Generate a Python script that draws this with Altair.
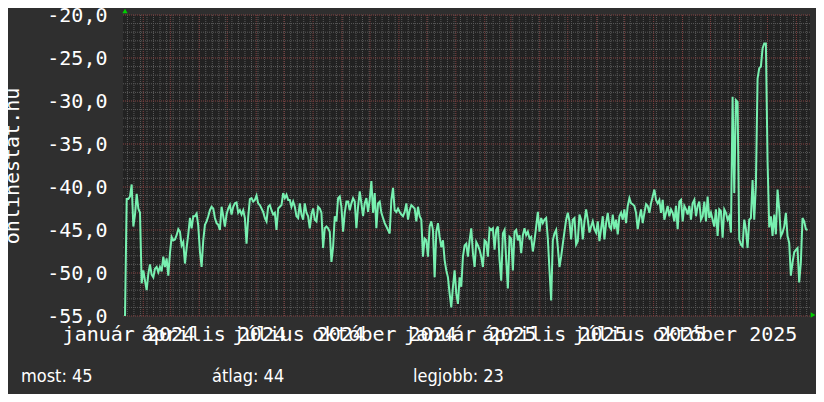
import altair as alt
import pandas as pd

# ---- data ----
vals_a = [
    -55.0, -41.4, -41.4, -41.1, -39.7, -44.6, -43.2, -40.8, -42.5, -43.0,
    -51.2, -49.7, -50.9, -52.0, -50.1, -49.0, -50.2, -50.5, -49.5, -49.3,
    -49.9, -49.3, -49.8, -48.1, -49.3, -48.3, -50.3, -47.7, -45.8, -46.2,
    -46.1, -45.6, -44.9, -45.2, -46.8, -46.4, -48.9, -47.1, -45.5, -43.6,
    -44.8, -43.4, -43.4, -43.1, -44.5, -47.5, -49.3, -46.2, -44.4, -44.0,
    -43.4, -42.7, -42.3, -42.5, -43.6, -44.2, -44.4, -45.0, -42.3, -43.4,
    -44.6, -43.2, -42.5, -42.1, -43.2, -42.3, -41.9, -41.8, -43.0, -42.7,
    -43.2, -42.7, -43.6, -46.6, -43.5, -41.4, -41.3, -41.7, -41.5, -41.0,
    -41.9, -42.1, -42.5, -42.9, -43.6, -44.0, -42.3, -42.1, -42.7, -43.2,
    -43.0, -45.0, -42.5, -42.3, -42.1, -40.7, -41.3, -40.9, -41.5, -41.5,
    -42.3, -41.7, -42.3, -43.4, -43.6, -41.9, -43.2, -43.8, -41.9, -43.0,
    -43.4, -44.8, -43.2, -42.5, -43.8, -44.0, -42.3, -42.5, -43.0, -47.1,
    -44.8, -44.6, -44.8, -45.2, -48.7, -47.0, -43.4, -44.0, -41.3, -41.1,
    -42.3, -45.2, -43.0, -41.7, -41.7, -42.7,
]
vals_b = [
    -41.9, -41.3, -41.7, -44.8, -42.3, -40.5, -41.9, -43.4, -41.9, -41.3,
    -42.9, -41.5, -39.3, -43.0, -40.7, -44.8, -41.9, -41.7, -43.0, -43.6,
    -44.2, -44.6, -45.0, -45.4, -41.5, -40.1, -42.7, -42.9, -42.5, -42.9,
    -43.2, -43.4, -42.9, -41.9, -43.8, -42.7, -42.1, -42.3, -42.5, -44.0,
    -42.3, -43.4, -43.8, -48.1, -46.0, -46.2, -48.1, -44.6, -44.0, -45.0,
    -50.5, -45.2, -44.2, -45.8, -47.0, -46.2, -48.5, -49.7, -50.5, -52.4,
    -54.0, -51.6, -49.7, -52.4, -53.6, -50.5, -51.6, -48.1, -46.8, -46.6,
    -48.1, -46.2, -44.8, -47.7, -49.3, -46.4, -46.8, -47.3, -48.1, -49.3,
    -46.2, -46.4, -48.1, -44.8, -45.0, -44.8, -47.3, -45.0, -44.6, -48.5,
    -50.9, -45.4, -45.0, -48.5, -51.8, -45.8, -46.0, -49.7, -45.2, -45.0,
    -46.2, -45.6, -47.7, -45.6, -44.8, -45.6, -45.2, -46.0, -45.8, -47.5,
    -46.2, -44.6, -42.9, -45.2, -43.6, -44.2, -43.8, -43.6, -46.0, -49.7,
    -53.2, -46.2, -45.4, -45.0, -47.0, -49.3, -48.1, -46.6, -45.2, -43.8,
    -43.0, -44.0,
]
vals_c = [
    -46.1, -43.8, -43.6, -46.7, -46.3, -43.2, -43.8, -46.1, -44.0, -42.6,
    -43.8, -45.3, -44.6, -44.0, -44.9, -45.3, -44.0, -46.3, -44.9, -43.4,
    -46.1, -44.2, -43.0, -44.6, -44.9, -43.2, -44.9, -43.8, -45.5, -43.4,
    -43.0, -43.8, -42.6, -44.2, -42.2, -41.3, -41.9, -42.0, -42.2, -43.0,
    -44.9, -43.6, -42.6, -44.2, -43.0, -42.0, -42.2, -43.0, -41.9, -41.1,
    -40.3, -41.5, -41.9, -41.5, -43.0, -41.5, -43.8, -43.0, -42.2, -43.4,
    -42.6, -43.0, -44.0, -42.2, -44.9, -41.7, -41.5, -44.0, -42.2, -42.6,
    -43.2, -42.2, -43.8, -41.9, -41.5, -43.4, -42.2, -41.7, -43.8, -43.4,
    -41.7, -44.0, -41.1, -43.6, -43.0, -43.8, -44.6, -42.6, -45.7, -42.6,
    -42.8, -45.9, -42.6, -43.0, -43.8, -43.4, -45.3, -29.5, -40.7, -29.9,
    -30.1, -46.1, -46.7, -46.9, -43.8, -44.9, -47.1, -43.8, -43.6, -39.2,
    -43.8, -39.7, -27.4, -26.2, -26.0, -23.9, -23.3, -23.3, -37.0, -44.7,
    -43.4, -45.7, -43.2, -45.5, -40.3, -42.6, -45.7, -45.3, -44.6, -43.0,
    -45.7, -46.5, -50.3, -48.8, -47.6, -47.3, -47.1, -51.1, -48.8, -43.6,
    -44.0, -44.9, -45.0,
]
values = vals_a + vals_b + vals_c
series_start = "2024-01-12T11:00"
step = "2569min"

hu_months = ["január", "február", "március", "április", "május", "június",
             "július", "augusztus", "szeptember", "október", "november", "december"]
label_months = [(2024, 1), (2024, 4), (2024, 7), (2024, 10),
                (2025, 1), (2025, 4), (2025, 7), (2025, 10)]
y_ticks = [-55, -50, -45, -40, -35, -30, -25, -20]
summary_labels = ["most: 45", "átlag: 44", "legjobb: 23"]
y_title = "onlinestat.hu"

# ---- tables ----
df = pd.DataFrame({
    "t": pd.date_range(series_start, periods=len(values), freq=step),
    "v": values,
})
month_grid = pd.DataFrame({"t": pd.date_range("2024-02-01", "2026-01-01", freq="MS")})
week_grid = pd.DataFrame({"t": pd.date_range("2024-01-15", "2026-01-12", freq="W-MON")})
y_minor = pd.DataFrame({"v": [v for v in range(-54, -20) if v % 5 != 0]})
y_major = pd.DataFrame({"v": y_ticks})

MONO = "DejaVu Sans Mono"
NARROW = "Liberation Sans Narrow, DejaVu Sans Condensed, sans-serif"
BG = "#2f2f2f"
PLOT_BG = "#222222"
LINE = "#78f0b0"
MINOR = "#5a5a5a"
MAJOR = "#844040"

x_scale = alt.Scale(domain=[alt.DateTime(year=2024, month=1, date=10, hours=7),
                            alt.DateTime(year=2026, month=1, date=15, hours=14)])
y_scale = alt.Scale(domain=[-55, -20], nice=False, zero=False)

month_arr = "[" + ",".join("'" + m + "'" for m in hu_months) + "]"
label_dates = [alt.DateTime(year=y, month=m, date=16) for y, m in label_months]

x_axis = alt.Axis(values=label_dates,
                  labelExpr=month_arr + "[month(datum.value)] + ' ' + year(datum.value)",
                  grid=False, ticks=False, domain=False, labelFont=MONO, labelFontSize=20,
                  labelColor="#ffffff", labelPadding=8, labelOverlap=False,
                  labelFlush=False, labelBound=False, title=None)
y_axis = alt.Axis(values=y_ticks, labelExpr="datum.value + ',0'", grid=False, ticks=False,
                  domain=False, labelFont=MONO, labelFontSize=20, labelColor="#ffffff",
                  labelPadding=16, title=y_title, titleFont=MONO, titleFontSize=20,
                  titleFontWeight="normal", titleColor="#ffffff", titlePadding=24)

X = alt.X("t:T", scale=x_scale, axis=x_axis)
Y = alt.Y("v:Q", scale=y_scale, axis=y_axis)

xw = alt.Chart(week_grid).mark_rule(color=MINOR, strokeDash=[1, 1], strokeWidth=1).encode(x=X)
xm = alt.Chart(month_grid).mark_rule(color=MAJOR, strokeDash=[1, 1], strokeWidth=1).encode(x=X)
yn = alt.Chart(y_minor).mark_rule(color=MINOR, strokeDash=[1, 1], strokeWidth=1).encode(y=Y)
ym = alt.Chart(y_major).mark_rule(color=MAJOR, strokeDash=[1, 1], strokeWidth=1).encode(y=Y)

line = alt.Chart(df).mark_line(color=LINE, strokeWidth=2, clip=True).encode(x=X, y=Y)

one = pd.DataFrame({"k": [0]})
arrow_up = alt.Chart(one).mark_point(shape="triangle-up", filled=True, color="#00d000",
                                     size=28, opacity=1).encode(x=alt.value(2), y=alt.value(-4))
arrow_right = alt.Chart(one).mark_point(shape="triangle-right", filled=True, color="#00d000",
                                        size=28, opacity=1).encode(x=alt.value(690), y=alt.value(300))

text_pos = [-102, 89, 290]
texts = [
    alt.Chart(pd.DataFrame({"label": [lab]})).mark_text(
        align="left", baseline="alphabetic", font=NARROW, fontSize=18, color="#ffffff"
    ).encode(x=alt.value(xp), y=alt.value(367), text="label:N")
    for lab, xp in zip(summary_labels, text_pos)
]

chart = alt.layer(xw, xm, yn, ym, line, arrow_up, arrow_right, *texts).properties(
    width=687, height=301,
    autosize=alt.AutoSizeParams(type="none"),
    padding={"left": 115, "top": 7, "right": 6, "bottom": 78},
).configure(background=BG).configure_view(fill=PLOT_BG, stroke=None)

chart.save("out.html", embed_options={"renderer": "svg", "actions": False})
